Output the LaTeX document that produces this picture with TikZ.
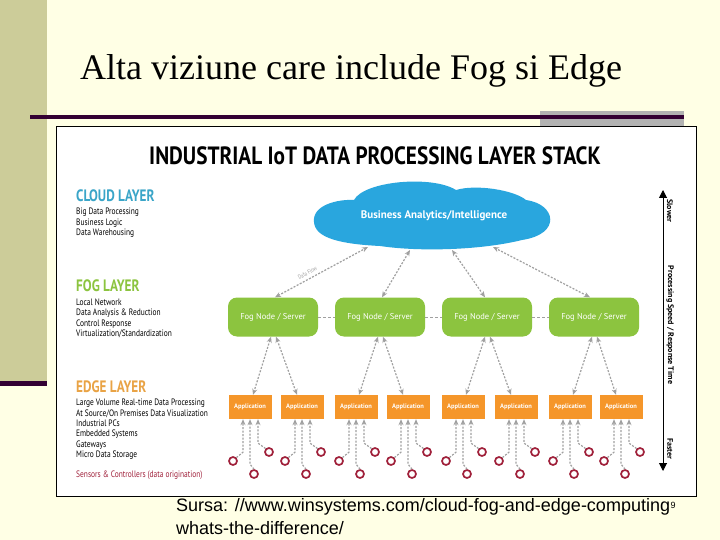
\documentclass[tikz,border=0pt]{standalone}
\usepackage{fontspec}
\setmainfont{Liberation Serif}
\newfontfamily\slidesans{Liberation Sans}
\newfontfamily\figcond{PT Sans}[FakeStretch=0.8]
\newfontfamily\titlecond{PT Sans}[FakeStretch=0.85]
\newfontfamily\figsans{PT Sans}
\usetikzlibrary{arrows.meta,calc,positioning}
\definecolor{slidebg}{HTML}{FFFFE5}
\definecolor{barkhaki}{HTML}{CCCC99}
\definecolor{darkplum}{HTML}{330033}
\definecolor{boxgray}{HTML}{B2B2B2}
\definecolor{cloudblue}{HTML}{29A6DE}
\definecolor{cloudtext}{HTML}{3AA5C8}
\definecolor{foggreen}{HTML}{8CC43F}
\definecolor{apporange}{HTML}{F5962A}
\definecolor{edgetext}{HTML}{E9A345}
\definecolor{sensred}{HTML}{A0213B}
\definecolor{flowgray}{HTML}{A0A0A0}

\begin{document}
\begin{tikzpicture}[x=1pt,y=-1pt,
	fognode/.style={rectangle, rounded corners=9pt, fill=foggreen, minimum width=90pt, minimum height=39pt, text=white, font=\figsans\fontsize{8.5}{10}\selectfont},
	appbox/.style={rectangle, fill=apporange, minimum width=43pt, minimum height=24pt, inner sep=0pt, text=white, font=\figsans\bfseries\fontsize{6.5}{8}\selectfont},
	sensor/.style={circle, draw=sensred, line width=1.7pt, minimum size=8pt, inner sep=0pt},
	flow/.style={draw=flowgray, line width=1.2pt, dash pattern=on 2pt off 1.5pt, {Stealth[length=6pt,width=5pt]}-{Stealth[length=6pt,width=5pt]}},
	upflow/.style={draw=flowgray, line width=1.2pt, dash pattern=on 2pt off 1.5pt, -{Stealth[length=6pt,width=5pt]}},
	foglink/.style={draw=flowgray, line width=0.8pt, dash pattern=on 3pt off 2pt},
	layerhead/.style={anchor=west, inner sep=0pt, font=\figcond\bfseries\fontsize{16.5}{18}\selectfont},
	layerlist/.style={anchor=north west, inner sep=0pt, align=left, font=\figcond\fontsize{9.3}{10.4}\selectfont},
	axislabel/.style={rotate=-90, font=\figsans\bfseries\fontsize{8}{9}\selectfont}]

	% slide background
	\useasboundingbox (0,0) rectangle (720,540);
	\fill [slidebg] (0,0) rectangle (720,540);
	\fill [barkhaki] (0,0) rectangle (47,383);
	\fill [darkplum] (0,381) rectangle (47,386);
	\node [anchor=base west, inner sep=0pt, font=\fontsize{36}{40}\selectfont] (slidetitle) at (80,80) {Alta viziune care include Fog si Edge};
	\fill [boxgray] (540,111) rectangle (684,126);
	\fill [darkplum] (30,115) rectangle (684,119);

	% picture frame
	\filldraw [fill=white, draw=black, line width=0.8pt] (56,126) rectangle (696,496);
	\node [font=\titlecond\bfseries\fontsize{25}{27}\selectfont, inner sep=0pt] (stacktitle) at (375,156) {INDUSTRIAL IoT DATA PROCESSING LAYER STACK};

	% layer texts
	\node [layerhead, text=cloudtext] (cloudhead) at (76,196) {CLOUD LAYER};
	\node [layerlist] (cloudlist) at (76,208) {Big Data Processing\\Business Logic\\Data Warehousing};
	\node [layerhead, text=foggreen] (foghead) at (76,286) {FOG LAYER};
	\node [layerlist] (foglist) at (76,298.5) {Local Network\\Data Analysis \& Reduction\\Control Response\\Virtualization/Standardization};
	\node [layerhead, text=edgetext] (edgehead) at (76,387) {EDGE LAYER};
	\node [layerlist] (edgelist) at (76,399) {Large Volume Real-time Data Processing\\At Source/On Premises Data Visualization\\Industrial PCs\\Embedded Systems\\Gateways\\Micro Data Storage};
	\node [layerlist, text=sensred] (sensorhead) at (76,471) {Sensors \& Controllers (data origination)};

	% cloud
	\fill [cloudblue] (314,222) .. controls (312,205) and (338,199) .. (354,200)
		.. controls (364,181) and (432,175) .. (456,190)
		.. controls (476,184) and (514,190) .. (526,200)
		.. controls (556,204) and (562,234) .. (522,240)
		.. controls (482,250) and (420,252) .. (380,246)
		.. controls (340,244) and (315,238) .. (314,222) -- cycle;
	\node [text=white, font=\figsans\bfseries\fontsize{11}{12}\selectfont] (cloud) at (434,216) {Business Analytics/Intelligence};
	\coordinate (cl1) at (368,247);
	\coordinate (cl2) at (410,250);
	\coordinate (cl3) at (452,250);
	\coordinate (cl4) at (493,247);

	% fog nodes
	\node [fognode] (fog1) at (273,317) {Fog Node / Server};
	\node [fognode] (fog2) at (380,317) {Fog Node / Server};
	\node [fognode] (fog3) at (487,317) {Fog Node / Server};
	\node [fognode] (fog4) at (594,317) {Fog Node / Server};
	\draw [foglink] (fog1) -- (fog2);
	\draw [foglink] (fog2) -- (fog3);
	\draw [foglink] (fog3) -- (fog4);

	\draw [flow] ([xshift=2pt]fog1.north) -- node [pos=0.38, above=0pt, sloped, text=flowgray, font=\figcond\fontsize{6}{7}\selectfont] {Data Flow} (cl1);
	\draw [flow] ([xshift=2pt]fog2.north) -- (cl2);
	\draw [flow] ([xshift=-2pt]fog3.north) -- (cl3);
	\draw [flow] ([xshift=-4pt]fog4.north) -- (cl4);

	% applications and sensors
	\foreach \i/\cx in {1/250,2/302,3/356,4/408,5/463,6/516,7/570,8/621} {
		\node [appbox] (a\i) at (\cx,407) {Application};
		\node [sensor] (sl\i) at (\cx-17,461) {};
		\node [sensor] (sb\i) at (\cx+4,474) {};
		\node [sensor] (sr\i) at (\cx+19,452) {};
		\draw [upflow] (sl\i.north east) -- ([xshift=-7pt,yshift=4pt]a\i.south |- sl\i.north) -- ([xshift=-7pt]a\i.south);
		\draw [upflow] (sb\i.north) -- ([yshift=5pt]a\i.south |- sb\i.north) -- (a\i.south);
		\draw [upflow] (sr\i.north west) -- ([xshift=8pt,yshift=4pt]a\i.south |- sr\i.north) -- ([xshift=8pt]a\i.south);
	}

	\foreach \f/\l/\r in {1/1/2,2/3/4,3/5/6,4/7/8} {
		\draw [flow] ([xshift=-2pt]fog\f.south) -- ([xshift=3pt]a\l.north);
		\draw [flow] ([xshift=3pt]fog\f.south) -- ([xshift=-5pt]a\r.north);
	}

	% speed axis
	\coordinate (slow) at (663,190);
	\coordinate (fast) at (663,471);
	\draw [line width=1pt, {Triangle[length=8pt,width=8pt]}-{Triangle[length=8pt,width=8pt]}] (slow) -- (fast);
	\node [axislabel] (slower) at (670,211) {Slower};
	\node [axislabel] (speed) at (670,325) {Processing Speed / Response Time};
	\node [axislabel] (faster) at (670,449) {Faster};

	% source
	\node [anchor=base west, inner sep=0pt, align=left, font=\slidesans\fontsize{18}{23}\selectfont] (source) at (176,534) {Sursa: //www.winsystems.com/cloud-fog-and-edge-computing\\whats-the-difference/};
	\node [font=\slidesans\fontsize{9}{10}\selectfont, inner sep=0pt] (pagenum) at (673,505) {9};
\end{tikzpicture}
\end{document}
